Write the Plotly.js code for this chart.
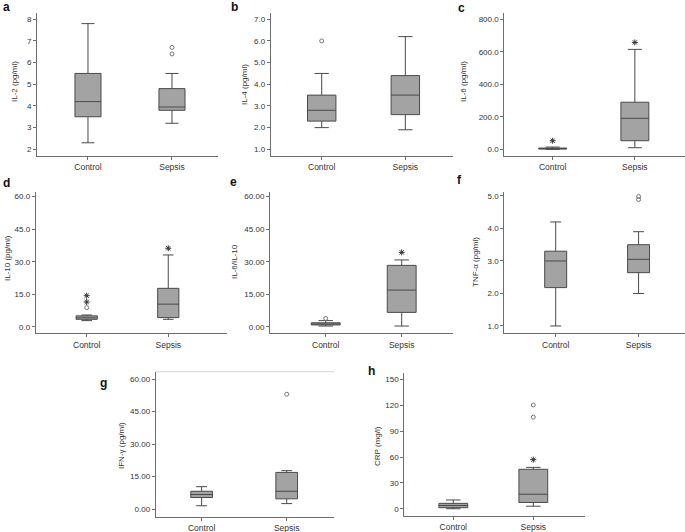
<!DOCTYPE html>
<html>
<head>
<meta charset="utf-8">
<script src="https://cdn.plot.ly/plotly-3.0.1.min.js"></script>
<style>html,body{margin:0;padding:0;background:#fff}#chart{width:685px;height:532px}</style>
</head>
<body>
<div id="chart"></div>
<script>
// ---- DATA ----
const groups = ['Control', 'Sepsis'];
// each box: [lower whisker, Q1, median, Q3, upper whisker]
const il2Control = [2.3, 3.5, 4.2, 5.5, 7.8];
const il2Sepsis = [3.2, 3.8, 3.95, 4.8, 5.5];
const il2SepsisOutliers = [6.4, 6.7];

const il4Control = [2.0, 2.3, 2.8, 3.5, 4.5];
const il4Sepsis = [1.9, 2.6, 3.5, 4.4, 6.2];
const il4ControlOutliers = [6.0];

const il6Control = [0, 2, 4, 8, 14];
const il6Sepsis = [10, 53, 191, 290, 615];
const il6ControlStars = [53];
const il6SepsisStars = [658];

const il10Control = [2.8, 3.4, 4.1, 5.0, 5.4];
const il10Sepsis = [3.4, 4.2, 10.4, 17.7, 33.1];
const il10ControlOutliers = [8.8];
const il10ControlStars = [11.4, 14.3];
const il10SepsisStars = [36.2];

const ratioControl = [0.3, 0.8, 1.2, 1.8, 2.8];
const ratioSepsis = [0.3, 6.6, 16.9, 28.3, 30.8];
const ratioControlOutliers = [3.8];
const ratioSepsisStars = [34.3];

const tnfControl = [1.0, 2.18, 3.0, 3.3, 4.2];
const tnfSepsis = [2.0, 2.64, 3.05, 3.5, 3.9];
const tnfSepsisOutliers = [4.89, 4.98];

const ifnControl = [1.5, 5.3, 6.7, 8.2, 10.3];
const ifnSepsis = [2.5, 4.7, 8.2, 16.9, 17.7];
const ifnSepsisOutliers = [53];

const crpControl = [0.3, 1.5, 4.0, 6.5, 10.4];
const crpSepsis = [3.2, 7.5, 17.0, 45.8, 48];
const crpSepsisOutliers = [106, 120];
const crpSepsisStars = [57];

const panelLetters = ['a', 'b', 'c', 'd', 'e', 'f', 'g', 'h'];
const yTitles = ['IL-2 (pg/ml)', 'IL-4 (pg/ml)', 'IL-6 (pg/ml)', 'IL-10 (pg/ml)', 'IL-6/IL-10',
                 'TNF-α (pg/ml)', 'IFN-γ (pg/ml)', 'CRP (mg/l)'];

// ---- STYLE / LAYOUT ----
const W = 685, H = 532;
const FONT = 'Liberation Sans, Arial, sans-serif';
const BOXFILL = '#a3a3a3', BOXLINE = '#4a4a4a', AXIS = '#6e6e6e', TXT = '#333';

const panels = [
  {px:[37,218,13,156], xr:[-0.607,1.548], yr:[1.69,8.29], dtick:1, fmt:'d', bw:0.31, data:[il2Control, il2Sepsis]},
  {px:[270.7,453,13,156], xr:[-0.61,1.57], yr:[0.69,7.29], dtick:1, fmt:'.1f', bw:0.34, data:[il4Control, il4Sepsis]},
  {px:[504.3,685,13,156], xr:[-0.588,1.61], yr:[-41,839], dtick:200, fmt:'.1f', bw:0.34, data:[il6Control, il6Sepsis]},
  {px:[35.7,227,191.7,333.3], xr:[-0.625,1.72], yr:[-3.05,62.3], dtick:15, fmt:'.1f', bw:0.26, data:[il10Control, il10Sepsis]},
  {px:[270,453,191.7,333.3], xr:[-0.733,1.675], yr:[-3.05,62.3], dtick:15, fmt:'.2f', bw:0.38, data:[ratioControl, ratioSepsis]},
  {px:[504.3,685,191.7,333.3], xr:[-0.62,1.56], yr:[0.775,5.13], dtick:1, fmt:'.1f', bw:0.265, data:[tnfControl, tnfSepsis]},
  {px:[155.7,334,371.7,516.7], xr:[-0.54,1.556], yr:[-3.55,63.4], dtick:15, fmt:'.2f', bw:0.255, data:[ifnControl, ifnSepsis]},
  {px:[404.3,585,373.3,516], xr:[-0.6125,1.646], yr:[-8.1,156.6], dtick:30, fmt:'d', bw:0.36, data:[crpControl, crpSepsis]}
];
const letterPos = [[6,7],[234,7],[461,8],[6,183],[233,182],[460,180],[103,383],[371,371]];
const titlePos = [[14,82],[244,85],[463,82],[7,258],[235,262],[476,262],[121,446],[377,446]];

const extraPoints = [
  {p:0, g:'Sepsis', v:il2SepsisOutliers, star:false},
  {p:1, g:'Control', v:il4ControlOutliers, star:false},
  {p:2, g:'Control', v:il6ControlStars, star:true},
  {p:2, g:'Sepsis', v:il6SepsisStars, star:true},
  {p:3, g:'Control', v:il10ControlOutliers, star:false},
  {p:3, g:'Control', v:il10ControlStars, star:true},
  {p:3, g:'Sepsis', v:il10SepsisStars, star:true},
  {p:4, g:'Control', v:ratioControlOutliers, star:false},
  {p:4, g:'Sepsis', v:ratioSepsisStars, star:true},
  {p:5, g:'Sepsis', v:tnfSepsisOutliers, star:false},
  {p:6, g:'Sepsis', v:ifnSepsisOutliers, star:false},
  {p:7, g:'Sepsis', v:crpSepsisOutliers, star:false},
  {p:7, g:'Sepsis', v:crpSepsisStars, star:true}
];

const traces = [];
const layout = {
  width: W, height: H, margin: {l:0, r:0, t:0, b:0},
  paper_bgcolor: '#fff', plot_bgcolor: 'rgba(0,0,0,0)',
  showlegend: false, font: {family: FONT, size: 8, color: TXT},
  annotations: [], shapes: []
};

panels.forEach((pn, i) => {
  const n = i === 0 ? '' : String(i + 1);
  const [l, r, t, b] = pn.px;
  layout['xaxis' + n] = {
    type: 'category', domain: [l / W, r / W], range: pn.xr, anchor: 'y' + n,
    showline: true, linecolor: AXIS, linewidth: 1, ticks: 'outside', ticklen: 3, tickcolor: AXIS,
    showgrid: false, zeroline: false, tickfont: {family: FONT, size: 8.5, color: TXT}, fixedrange: true
  };
  layout['yaxis' + n] = {
    domain: [1 - b / H, 1 - t / H], range: pn.yr, anchor: 'x' + n,
    showline: true, linecolor: AXIS, linewidth: 1, ticks: 'outside', ticklen: 3, tickcolor: AXIS,
    showgrid: false, zeroline: false, dtick: pn.dtick, tick0: 0, tickformat: pn.fmt,
    tickfont: {family: FONT, size: 8, color: TXT}, fixedrange: true
  };
  traces.push({
    type: 'box', x: groups, xaxis: 'x' + n, yaxis: 'y' + n,
    lowerfence: pn.data.map(d => d[0]), q1: pn.data.map(d => d[1]), median: pn.data.map(d => d[2]),
    q3: pn.data.map(d => d[3]), upperfence: pn.data.map(d => d[4]),
    width: pn.bw, whiskerwidth: 0.5, boxpoints: false,
    fillcolor: BOXFILL, line: {color: BOXLINE, width: 1}, hoverinfo: 'skip'
  });
  layout.annotations.push({
    text: '<b>' + panelLetters[i] + '</b>', xref: 'paper', yref: 'paper',
    x: letterPos[i][0] / W, y: 1 - letterPos[i][1] / H, xanchor: 'center', yanchor: 'middle',
    showarrow: false, font: {family: FONT, size: 12, color: '#111'}
  });
  layout.annotations.push({
    text: yTitles[i], xref: 'paper', yref: 'paper', textangle: -90,
    x: titlePos[i][0] / W, y: 1 - titlePos[i][1] / H, xanchor: 'center', yanchor: 'middle',
    showarrow: false, font: {family: FONT, size: 8, color: TXT}
  });
});

// faint top border on panel g
layout.shapes.push({type: 'line', xref: 'paper', yref: 'paper',
  x0: 155.7 / W, x1: 334 / W, y0: 1 - 371.7 / H, y1: 1 - 371.7 / H,
  line: {color: '#d6d6d6', width: 1}});

extraPoints.forEach(e => {
  const n = e.p === 0 ? '' : String(e.p + 1);
  traces.push({
    type: 'scatter', mode: 'markers', x: e.v.map(() => e.g), y: e.v,
    xaxis: 'x' + n, yaxis: 'y' + n, hoverinfo: 'skip',
    marker: e.star
      ? {symbol: 'asterisk-open', size: 5, color: '#333', line: {color: '#333', width: 1}}
      : {symbol: 'circle-open', size: 4, color: '#777', line: {color: '#777', width: 1}}
  });
});

Plotly.newPlot('chart', traces, layout, {staticPlot: true, displayModeBar: false});
</script>
</body>
</html>
